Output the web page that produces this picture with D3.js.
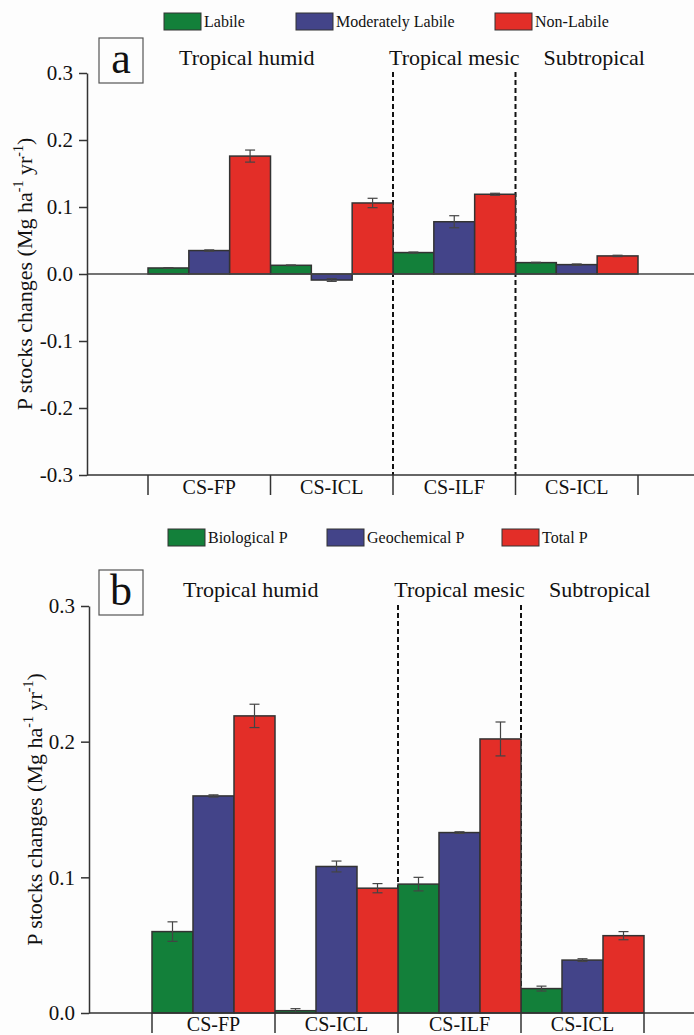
<!DOCTYPE html>
<html>
<head>
<meta charset="utf-8">
<script src="https://cdn.jsdelivr.net/npm/d3@7"></script>
<style>
  body { margin: 0; background: #fdfdfd; }
  svg { display: block; }
</style>
</head>
<body>
<script>
// categories (two CS-ICL sites, so bars are keyed by index)
var categories = ["CS-FP", "CS-ICL", "CS-ILF", "CS-ICL"];
var regions = ["Tropical humid", "Tropical mesic", "Subtropical"];

// panel a : P fractions
var seriesA = ["Labile", "Moderately Labile", "Non-Labile"];
var labile = [0.009, 0.013, 0.032, 0.017];
var labileErr = [0.0005, 0.0005, 0.0008, 0.0005];
var modLabile = [0.035, -0.009, 0.078, 0.014];
var modLabileErr = [0.001, 0.002, 0.009, 0.001];
var nonLabile = [0.176, 0.106, 0.119, 0.027];
var nonLabileErr = [0.009, 0.007, 0.0015, 0.001];
var ticksA = [-0.3, -0.2, -0.1, 0.0, 0.1, 0.2, 0.3];

// panel b : P pools
var seriesB = ["Biological P", "Geochemical P", "Total P"];
var biological = [0.060, 0.0017, 0.095, 0.018];
var biologicalErr = [0.0072, 0.0015, 0.005, 0.0018];
var geochemical = [0.160, 0.108, 0.133, 0.039];
var geochemicalErr = [0.0008, 0.004, 0.0006, 0.001];
var totalP = [0.219, 0.092, 0.202, 0.057];
var totalPErr = [0.0086, 0.0034, 0.0125, 0.003];
var ticksB = [0.0, 0.1, 0.2, 0.3];

var colours = ["#13803a", "#434489", "#e32e28"];
var width = 694, height = 1035;
var font = "'Liberation Serif', 'Times New Roman', serif";

var svg = d3.select("body").append("svg")
   .attr("width", width).attr("height", height)
   .attr("viewBox", "0,0," + width + "," + height);
svg.append("rect").attr("width", width).attr("height", height).attr("fill", "#fdfdfd");

drawPanel({
   letter: "a",
   series: seriesA,
   values: [labile, modLabile, nonLabile],
   errors: [labileErr, modLabileErr, nonLabileErr],
   ticks: ticksA,
   axisX: 87, yTop: 73, yBottom: 475,
   bandRange: [148, 638],
   legendX: [164, 296, 495], legendY: 13,
   boxY: 38, titleY: 65, dashTop: 72,
   labelX: 32, catY: 494
});

drawPanel({
   letter: "b",
   series: seriesB,
   values: [biological, geochemical, totalP],
   errors: [biologicalErr, geochemicalErr, totalPErr],
   ticks: ticksB,
   axisX: 89, yTop: 606, yBottom: 1013,
   bandRange: [152, 644],
   legendX: [168, 327, 502], legendY: 529,
   boxY: 570, titleY: 597, dashTop: 605,
   labelX: 42, catY: 1031
});

function drawPanel(p){
   var g = svg.append("g");
   var ext = d3.extent(p.ticks);
   var y = d3.scaleLinear().domain(ext).range([p.yBottom, p.yTop]);
   var x = d3.scaleBand().domain(d3.range(categories.length)).range(p.bandRange).padding(0);
   var bw = x.bandwidth() / p.series.length;

   //LEGEND
   p.series.forEach(function(s, i){
      g.append("rect")
         .attr("x", p.legendX[i]).attr("y", p.legendY)
         .attr("width", 37).attr("height", 17)
         .attr("fill", colours[i]).attr("stroke", "#333").attr("stroke-width", 1);
      g.append("text").text(s)
         .attr("x", p.legendX[i] + 40).attr("y", p.legendY + 14)
         .attr("font-family", font).attr("font-size", "16px").attr("fill", "#111");
   });

   //PANEL LETTER
   g.append("rect")
      .attr("x", 99).attr("y", p.boxY).attr("width", 44).attr("height", 45)
      .attr("fill", "#fdfdfd").attr("stroke", "#555").attr("stroke-width", 1.2);
   g.append("text").text(p.letter)
      .attr("x", 121).attr("y", p.boxY + 35)
      .attr("text-anchor", "middle")
      .attr("font-family", font).attr("font-size", "44px").attr("fill", "#111");

   //REGION TITLES
   var titleX = [x(0) + 31, x(2) + x.bandwidth() / 2, x(3) + 28];
   var anchors = ["start", "middle", "start"];
   regions.forEach(function(r, i){
      g.append("text").text(r)
         .attr("x", titleX[i]).attr("y", p.titleY)
         .attr("text-anchor", anchors[i])
         .attr("font-family", font).attr("font-size", "22px").attr("fill", "#111");
   });

   //DASHED REGION SEPARATORS
   [x(2), x(3)].forEach(function(d){
      g.append("line")
         .attr("x1", d).attr("x2", d)
         .attr("y1", p.dashTop).attr("y2", p.yBottom)
         .attr("stroke", "#111").attr("stroke-width", 2)
         .attr("stroke-dasharray", "5,3");
   });

   //BARS
   p.values.forEach(function(vals, s){
      g.selectAll("rect.bar" + s).data(vals).enter().append("rect")
         .attr("class", "bar" + s)
         .attr("x", function(d, i){ return x(i) + s * bw; })
         .attr("y", function(d){ return y(Math.max(0, d)); })
         .attr("width", bw)
         .attr("height", function(d){ return Math.abs(y(d) - y(0)); })
         .attr("fill", colours[s])
         .attr("stroke", "#333").attr("stroke-width", 1.5);
   });

   //ERROR BARS
   p.values.forEach(function(vals, s){
      vals.forEach(function(v, i){
         var e = p.errors[s][i];
         var cx = x(i) + s * bw + bw / 2;
         var eg = g.append("g").attr("stroke", "#444").attr("stroke-width", 1.2);
         eg.append("line").attr("x1", cx).attr("x2", cx).attr("y1", y(v - e)).attr("y2", y(v + e));
         eg.append("line").attr("x1", cx - 5).attr("x2", cx + 5).attr("y1", y(v - e)).attr("y2", y(v - e));
         eg.append("line").attr("x1", cx - 5).attr("x2", cx + 5).attr("y1", y(v + e)).attr("y2", y(v + e));
      });
   });

   //ZERO LINE (when axis goes negative)
   if(ext[0] < 0){
      g.append("line")
         .attr("x1", p.axisX).attr("x2", width)
         .attr("y1", y(0)).attr("y2", y(0))
         .attr("stroke", "#444").attr("stroke-width", 1.5);
   }

   //Y AXIS
   var yAxis = g.append("g")
      .attr("transform", "translate(" + p.axisX + ",0)")
      .call(d3.axisLeft(y).tickValues(p.ticks).tickSize(8).tickSizeOuter(0).tickPadding(6)
         .tickFormat(function(d){ return d.toFixed(1); }));
   yAxis.select(".domain").attr("stroke", "#333").attr("stroke-width", 1.5);
   yAxis.selectAll(".tick line").attr("stroke", "#333").attr("stroke-width", 1.5);
   yAxis.selectAll(".tick text")
      .attr("font-family", font).attr("font-size", "21px").attr("fill", "#111");

   //X AXIS
   g.append("line")
      .attr("x1", p.axisX).attr("x2", width)
      .attr("y1", p.yBottom).attr("y2", p.yBottom)
      .attr("stroke", "#333").attr("stroke-width", 1.5);
   var edges = d3.range(categories.length).map(function(i){ return x(i); });
   edges.push(x(categories.length - 1) + x.bandwidth());
   g.selectAll("line.edge").data(edges).enter().append("line")
      .attr("class", "edge")
      .attr("x1", function(d){ return d; }).attr("x2", function(d){ return d; })
      .attr("y1", p.yBottom).attr("y2", p.yBottom + 20)
      .attr("stroke", "#333").attr("stroke-width", 1.5);
   g.selectAll("text.cat").data(categories).enter().append("text")
      .attr("class", "cat").text(function(d){ return d; })
      .attr("x", function(d, i){ return x(i) + x.bandwidth() / 2; })
      .attr("y", p.catY)
      .attr("text-anchor", "middle")
      .attr("font-family", font).attr("font-size", "20px").attr("fill", "#111");

   //Y LABEL
   var mid = (p.yTop + p.yBottom) / 2;
   var lab = g.append("text")
      .attr("transform", "translate(" + p.labelX + "," + mid + ") rotate(-90)")
      .attr("text-anchor", "middle")
      .attr("font-family", font).attr("font-size", "22px").attr("fill", "#111");
   lab.append("tspan").text("P stocks changes (Mg ha");
   lab.append("tspan").text("-1").attr("font-size", "14px").attr("dy", "-9");
   lab.append("tspan").text(" yr").attr("dy", "9");
   lab.append("tspan").text("-1").attr("font-size", "14px").attr("dy", "-9");
   lab.append("tspan").text(")").attr("dy", "9");
}
</script>
</body>
</html>
